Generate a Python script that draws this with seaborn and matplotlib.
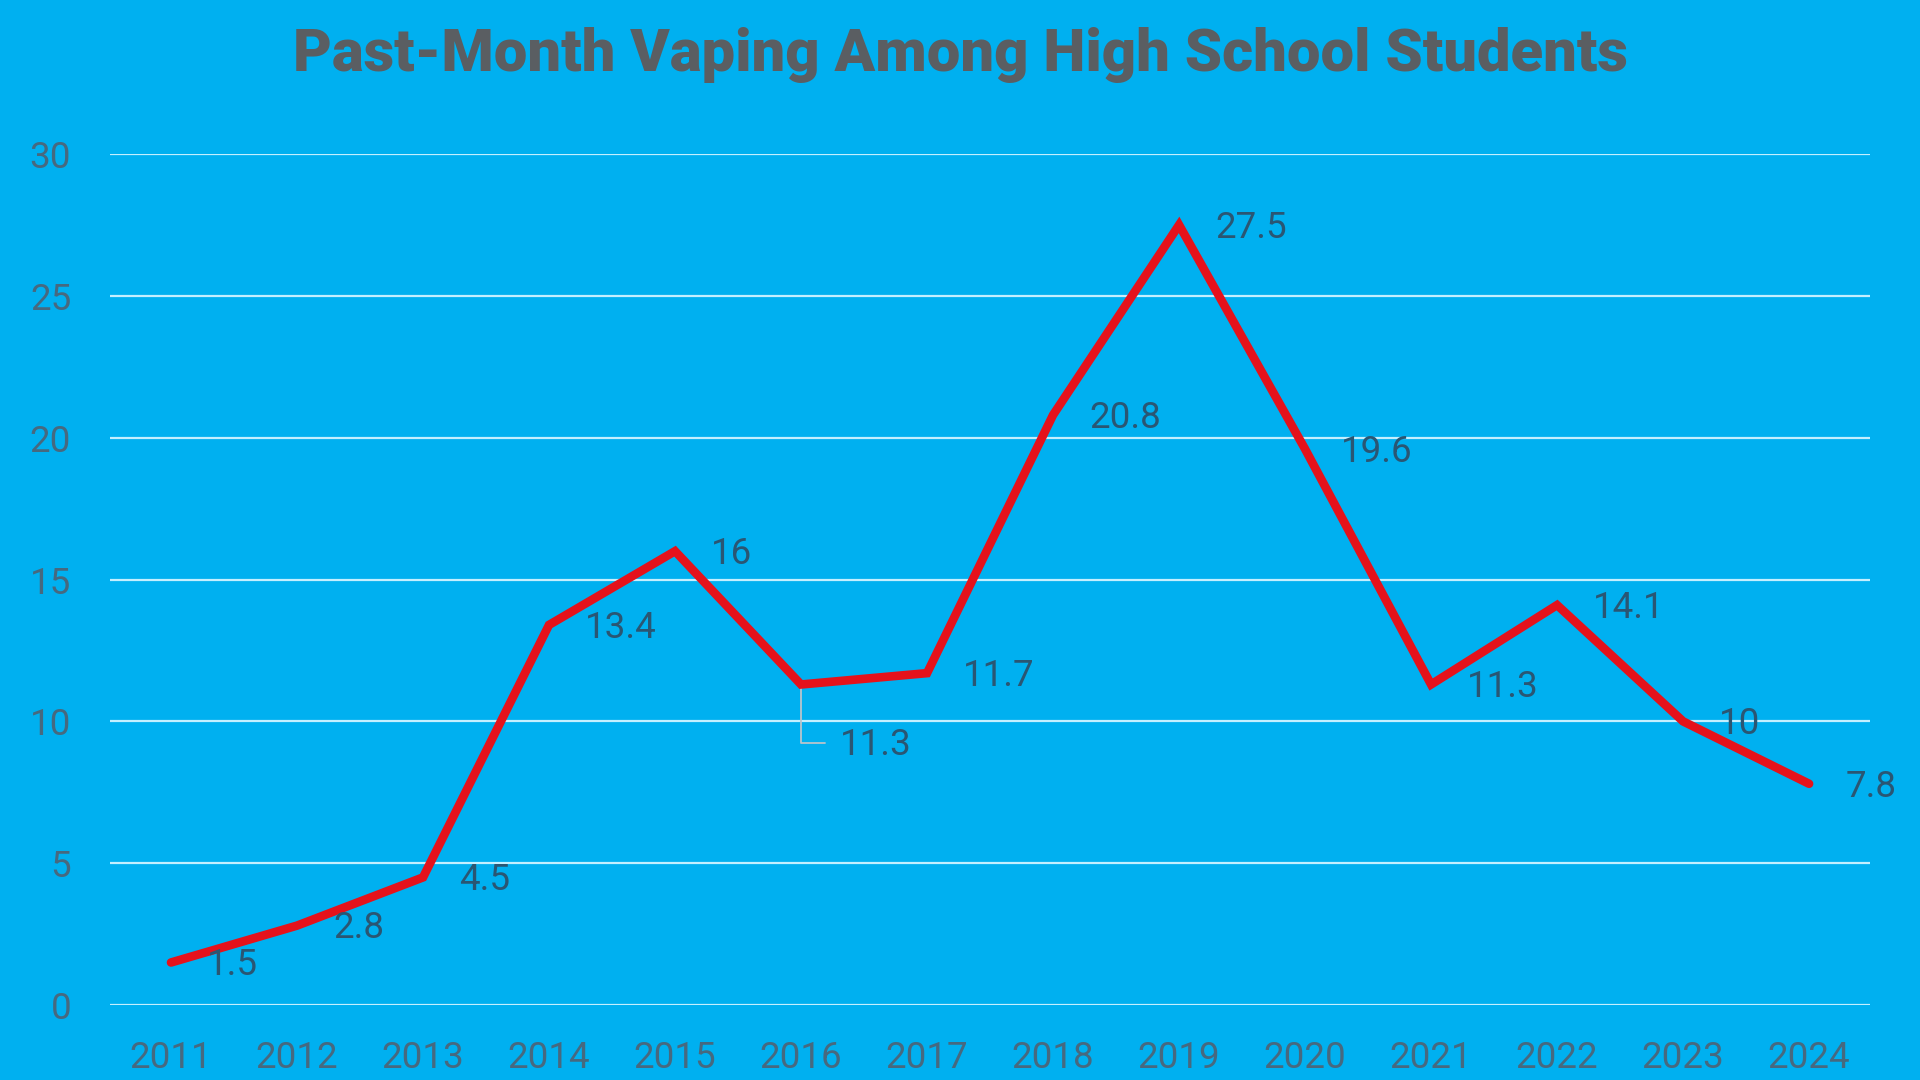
import matplotlib
matplotlib.use('Agg')
import matplotlib.pyplot as plt
import seaborn as sns
import pandas as pd

# data
years = [2011, 2012, 2013, 2014, 2015, 2016, 2017, 2018, 2019, 2020, 2021, 2022, 2023, 2024]
vaping = [1.5, 2.8, 4.5, 13.4, 16, 11.3, 11.7, 20.8, 27.5, 19.6, 11.3, 14.1, 10, 7.8]
y_ticks = [0, 5, 10, 15, 20, 25, 30]
title = 'Past-Month Vaping Among High School Students'

BG = '#00b0f0'
RED = '#e5121b'
GRID = '#c4efff'
TICK_COL = '#47697f'
LABEL_COL = '#2a5673'
TITLE_COL = '#5a5e62'

sns.set_theme(style='white')
plt.rcParams['font.family'] = ['Roboto', 'DejaVu Sans']

df = pd.DataFrame({'Year': years, 'Rate': vaping})

fig = plt.figure(figsize=(19.2, 10.8), dpi=100, facecolor=BG)
ax = fig.add_axes([0.0573, 0.0694, 0.9167, 0.788])
ax.set_facecolor(BG)

# horizontal gridlines
for t in y_ticks:
    ax.axhline(t, color=GRID, lw=1.6, zorder=1)

sns.lineplot(data=df, x='Year', y='Rate', color=RED, lw=6.2, ax=ax,
             zorder=3, solid_capstyle='round', solid_joinstyle='miter')

# data labels to the right of each point
for i, (yr, v) in enumerate(zip(years, vaping)):
    txt = f'{v:g}'
    if yr == 2016:
        # this label was pulled down with a leader line
        ly = v - 2.05
        ax.plot([yr, yr, yr + 0.19], [v, ly, ly], color='#b9c4cc', lw=1.3, zorder=2)
        ax.annotate(txt, (yr + 0.31, ly), xytext=(0, -2), textcoords='offset points',
                    ha='left', va='center', fontsize=26.5, color=LABEL_COL, zorder=4)
    else:
        ax.annotate(txt, (yr, v), xytext=(26, -2), textcoords='offset points',
                    ha='left', va='center', fontsize=26.5, color=LABEL_COL, zorder=4)

ax.set_xlim(years[0] - 0.484, years[-1] + 0.484)
ax.set_ylim(0, 30)
ax.set_xticks(years)
ax.set_xticklabels([str(y) for y in years])
ax.set_yticks(y_ticks)
ax.tick_params(axis='x', length=0, pad=25, labelsize=26.5, labelcolor=TICK_COL)
ax.tick_params(axis='y', length=0, pad=28, labelsize=26.5, labelcolor=TICK_COL)
ax.set_xlabel('')
ax.set_ylabel('')
for s in ax.spines.values():
    s.set_visible(False)
ax.grid(False)

fig.text(0.5, 0.949, title, ha='center', va='center', fontsize=43,
         fontweight='heavy', color=TITLE_COL)

fig.savefig('out.png', dpi=100, facecolor=BG)
